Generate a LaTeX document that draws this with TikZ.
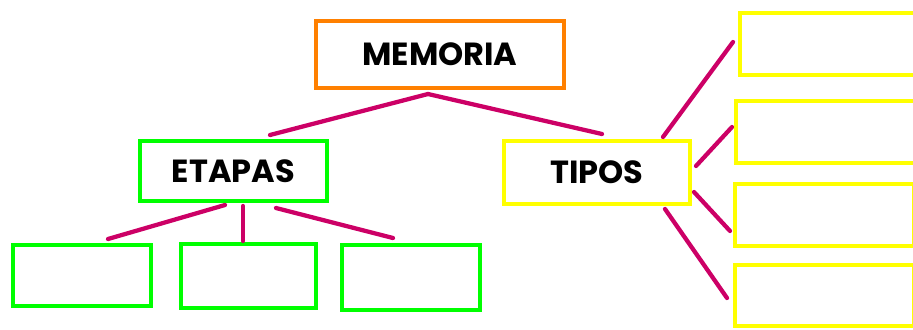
\documentclass[tikz,border=0pt]{standalone}
\usepackage{fontspec}
\setmainfont{Poppins}
\usetikzlibrary{calc}
\definecolor{naranja}{RGB}{255,128,0}
\definecolor{verde}{RGB}{0,255,0}
\definecolor{amarillo}{RGB}{255,255,0}
\definecolor{rosa}{RGB}{204,0,102}
\tikzset{
  caja/.style={draw,line width=3pt,inner sep=0pt,font=\fontsize{24}{29}\selectfont\bfseries},
  enlace/.style={draw=rosa,line width=3.2pt,line cap=round}
}
\begin{document}
\begin{tikzpicture}[x=0.75pt,y=-0.75pt]
  \useasboundingbox (0,0) rectangle (913,329);
  \clip (0,0) rectangle (913,329);

  \node [caja,draw=naranja,minimum width=186pt,minimum height=50.25pt] (memoria) at (440,54.5) {MEMORIA};
  \node [caja,draw=verde,minimum width=140.25pt,minimum height=45pt] (etapas) at (233.5,171) {ETAPAS};
  \node [caja,draw=amarillo,minimum width=139.5pt,minimum height=47.25pt] (tipos) at (597,172.5) {TIPOS\hspace{12pt}};

  \node [caja,draw=verde,minimum width=103.5pt,minimum height=45.75pt] (e1) at (82,275.5) {};
  \node [caja,draw=verde,minimum width=101.25pt,minimum height=48pt] (e2) at (248.5,276) {};
  \node [caja,draw=verde,minimum width=103.5pt,minimum height=48.75pt] (e3) at (411,277.5) {};

  \node [caja,draw=amarillo,minimum width=135pt,minimum height=46.5pt] (t1) at (830,44) {};
  \node [caja,draw=amarillo,minimum width=138pt,minimum height=46.5pt] (t2) at (828,132) {};
  \node [caja,draw=amarillo,minimum width=134.25pt,minimum height=46.5pt] (t3) at (824.5,215) {};
  \node [caja,draw=amarillo,minimum width=134.25pt,minimum height=45.75pt] (t4) at (824.5,295.5) {};

  % MEMORIA
  \draw [enlace] ($(memoria.south)+(-12,4)$) -- ($(etapas.north)+(36.5,-4)$);
  \draw [enlace] ($(memoria.south)+(-12,4)$) -- ($(tipos.north)+(5,-5)$);
  % ETAPAS
  \draw [enlace] ($(etapas.south)+(-8.5,2)$) -- ($(e1.north)+(26,-4)$);
  \draw [enlace] ($(etapas.south)+(9.5,3)$) -- ($(e2.north)+(-5.5,-1)$);
  \draw [enlace] ($(etapas.south)+(42.5,5)$) -- ($(e3.north)+(-18,-5)$);
  % TIPOS
  \draw [enlace] ($(tipos.north east)+(-29,-2)$) -- ($(t1.west)+(-5,-2)$);
  \draw [enlace] ($(tipos.east)+(4,-6.5)$) -- ($(t2.west)+(-2,-5)$);
  \draw [enlace] ($(tipos.east)+(2,19.5)$) -- ($(t3.west)+(-3,16)$);
  \draw [enlace] ($(tipos.south east)+(-27,3)$) -- ($(t4.west)+(-6,2.5)$);
\end{tikzpicture}
\end{document}
